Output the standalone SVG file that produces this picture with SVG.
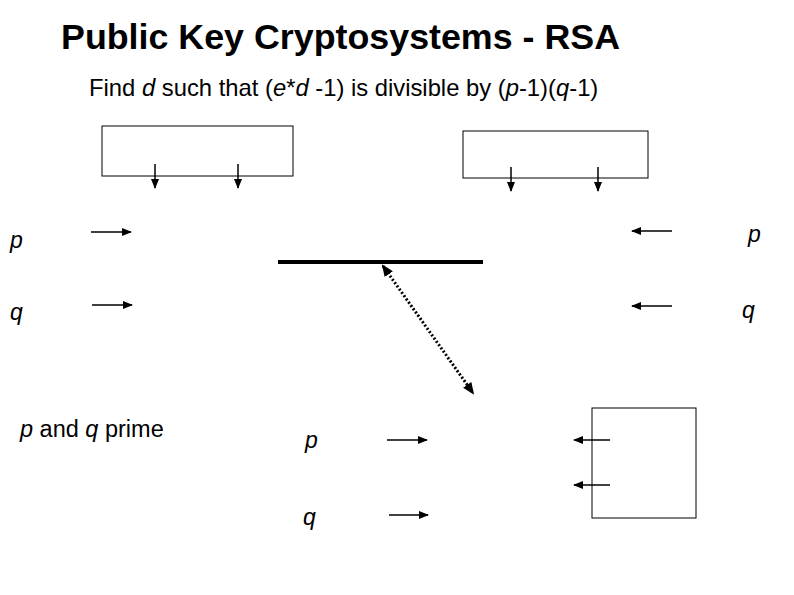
<svg xmlns="http://www.w3.org/2000/svg" width="794" height="595" viewBox="0 0 794 595">
<style>
text{font-family:"Liberation Sans",Arial,sans-serif;fill:#000}
.i{font-style:italic;font-size:23px}
.box{fill:none;stroke:#000;stroke-width:1}
.a{stroke:#000;stroke-width:1.5;fill:none;marker-end:url(#ah)}
</style>
<defs>
<marker id="ah" markerWidth="10" markerHeight="10" refX="9" refY="5" orient="auto" markerUnits="userSpaceOnUse"><path d="M0,1 L10,5 L0,9 Z" fill="#000"/></marker>
<marker id="ad" markerWidth="12" markerHeight="12" refX="10" refY="6" orient="auto-start-reverse" markerUnits="userSpaceOnUse"><path d="M0,1 L12,6 L0,11 Z" fill="#000"/></marker>
</defs>
<rect width="794" height="595" fill="#fff"/>
<text x="61" y="49" font-size="35.8" font-weight="bold">Public Key Cryptosystems - RSA</text>
<text x="89" y="96" font-size="23.8">Find <tspan font-style="italic">d</tspan> such that (<tspan font-style="italic">e</tspan>*<tspan font-style="italic">d</tspan> -1) is divisible by (<tspan font-style="italic">p</tspan>-1)(<tspan font-style="italic">q</tspan>-1)</text>
<g id="box1"><rect class="box" x="102" y="126" width="191" height="50"/></g>
<g id="box2"><rect class="box" x="463" y="131" width="185" height="47"/></g>
<g id="box3"><rect class="box" x="592" y="408" width="104" height="110"/></g>
<g id="bar"><line x1="278" y1="262" x2="483" y2="262" stroke="#000" stroke-width="4"/></g>
<g id="labels">
<text x="10" y="248" class="i">p</text>
<text x="10" y="320" class="i">q</text>
<text x="748" y="242" class="i">p</text>
<text x="742" y="318" class="i">q</text>
<text x="305" y="448" class="i">p</text>
<text x="303" y="525" class="i">q</text>
<text x="20" y="437" font-size="23.5"><tspan font-style="italic">p</tspan> and <tspan font-style="italic">q</tspan> prime</text>
</g>
<g id="connectors">
<line class="a" x1="155" y1="164" x2="155" y2="188"/>
<line class="a" x1="238" y1="164" x2="238" y2="188"/>
<line class="a" x1="511" y1="167" x2="511" y2="191"/>
<line class="a" x1="598" y1="167" x2="598" y2="191"/>
<line class="a" x1="91" y1="232" x2="131" y2="232"/>
<line class="a" x1="92" y1="305" x2="132" y2="305"/>
<line class="a" x1="672" y1="231" x2="632" y2="231"/>
<line class="a" x1="672" y1="306" x2="632" y2="306"/>
<line class="a" x1="387" y1="440" x2="427" y2="440"/>
<line class="a" x1="389" y1="515" x2="428" y2="515"/>
<line class="a" x1="610" y1="440" x2="574" y2="440"/>
<line class="a" x1="610" y1="485" x2="574" y2="485"/>
<line x1="383" y1="266" x2="473" y2="393" stroke="#000" stroke-width="3" stroke-dasharray="2,2" marker-start="url(#ad)" marker-end="url(#ad)"/>
</g>
</svg>
